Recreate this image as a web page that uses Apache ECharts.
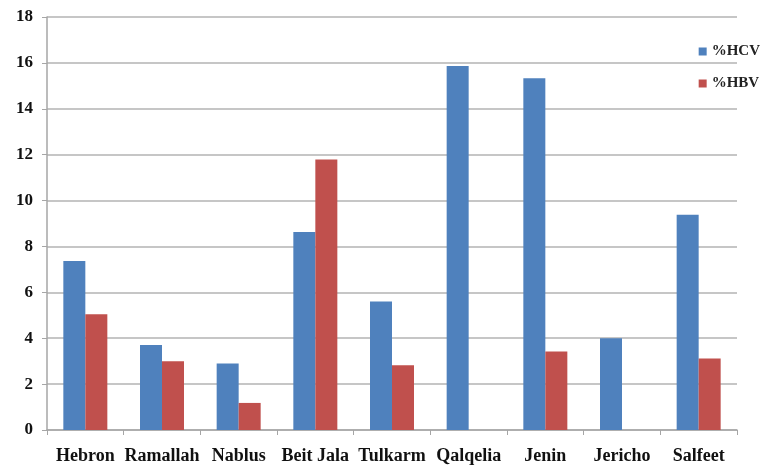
<!DOCTYPE html>
<html>
<head>
<meta charset="utf-8">
<script src="https://cdn.jsdelivr.net/npm/echarts@6/dist/echarts.min.js"></script>
<style>
html,body{margin:0;padding:0;background:#fff;}
#chart{width:769px;height:467px;}
</style>
</head>
<body>
<div id="chart"></div>
<script>
const categories = ['Hebron','Ramallah','Nablus','Beit Jala','Tulkarm','Qalqelia','Jenin','Jericho','Salfeet'];
const hcv = [7.37, 3.7, 2.9, 8.63, 5.6, 15.86, 15.33, 4.0, 9.38];
const hbv = [5.05, 3.0, 1.18, 11.79, 2.82, 0, 3.42, 0, 3.12];
const seriesNames = ['%HCV', '%HBV'];

const chart = echarts.init(document.getElementById('chart'));
const font = 'Liberation Serif';
chart.setOption({
  animation: false,
  backgroundColor: '#ffffff',
  grid: {left: 47, right: 32, top: 17, bottom: 37, containLabel: false},
  legend: {
    orient: 'vertical',
    right: 4, top: 39,
    itemWidth: 8, itemHeight: 8, itemGap: 17,
    icon: 'rect',
    textStyle: {fontFamily: font, fontWeight: 'bold', fontSize: 15, color: '#222'},
    data: seriesNames
  },
  xAxis: {
    type: 'category',
    data: categories,
    axisLine: {lineStyle: {color: '#a6a6a6', width: 1.5}},
    axisTick: {show: true, alignWithLabel: false, length: 5, lineStyle: {color: '#a6a6a6'}},
    axisLabel: {fontFamily: font, fontWeight: 'bold', fontSize: 18, color: '#111', margin: 17, interval: 0}
  },
  yAxis: {
    type: 'value',
    min: 0, max: 18, interval: 2,
    axisLine: {show: true, lineStyle: {color: '#a6a6a6', width: 1.5}},
    axisTick: {show: true, length: 5, lineStyle: {color: '#a6a6a6'}},
    splitLine: {lineStyle: {color: '#b3b3b3', width: 1.5}},
    axisLabel: {fontFamily: font, fontWeight: 'bold', fontSize: 17, color: '#111', margin: 14}
  },
  series: [
    {name: seriesNames[0], type: 'bar', data: hcv, barWidth: 22, barGap: '0%', itemStyle: {color: '#4F81BD'}},
    {name: seriesNames[1], type: 'bar', data: hbv, barWidth: 22, barGap: '0%', itemStyle: {color: '#C0504D'}}
  ]
});
</script>
</body>
</html>
